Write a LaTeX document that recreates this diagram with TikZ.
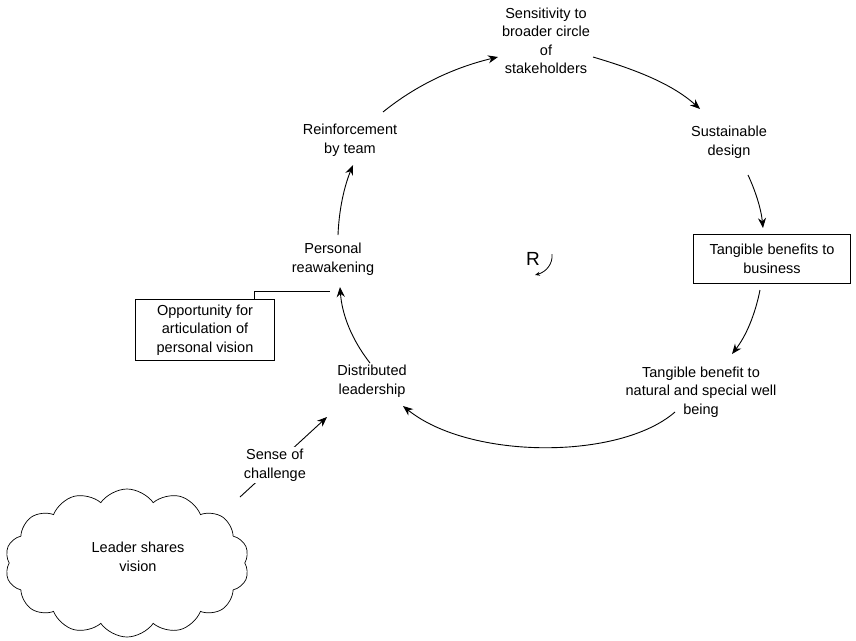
\documentclass[tikz,border=0pt]{standalone}
\usepackage{fontspec}
\setmainfont{Liberation Sans}
\usetikzlibrary{arrows.meta,shapes.symbols}
\begin{document}
\begin{tikzpicture}[x=1pt,y=-1pt,
  txt/.style={align=center,font=\fontsize{14.5}{18.5}\selectfont,inner sep=1pt},
  boxed/.style={txt,draw,line width=0.9pt,inner xsep=8pt,inner ysep=5pt},
  link/.style={line width=0.9pt,-{Stealth[length=10pt,width=8pt]}},
  plain/.style={line width=0.9pt}]
\useasboundingbox (0,0) rectangle (856,640);

% loop variables
\node[txt] (sens) at (546,41) {Sensitivity to\\broader circle\\of\\stakeholders};
\node[txt] (sust) at (729,142) {Sustainable\\design};
\node[boxed,minimum width=157pt,minimum height=49pt] (tbb) at (772,259) {Tangible benefits to\\business};
\node[txt] (tbn) at (701,392) {Tangible benefit to\\natural and special well\\being};
\node[txt] (dist) at (372,381) {Distributed\\leadership};
\node[txt] (pers) at (333,259) {Personal\\reawakening};
\node[txt] (reinf) at (350,140) {Reinforcement\\by team};

% external inputs
\node[boxed,minimum width=139pt,minimum height=55pt] (opp) at (205,330) {Opportunity for\\articulation of\\personal vision};
\node[cloud,draw,line width=0.7pt,cloud puffs=14,cloud puff arc=110,aspect=1.7,
      minimum width=244pt,minimum height=148pt] (cloud) at (127,563) {};
\node[txt] (cloudtext) at (138,557) {Leader shares\\vision};

% loop polarity
\node[font=\fontsize{19}{20}\selectfont,inner sep=0pt] (R) at (533,259) {R};
\coordinate (rstart) at (552,254);
\coordinate (rend) at (535,275);
\draw[line width=0.8pt,-{Stealth[length=5pt,width=4pt]}] (rstart) .. controls (553,264) and (546,272) .. (rend);

% loop links
\draw[link] (383,112) .. controls (420,82) and (460,66) .. (498,57);
\draw[link] (593,57) .. controls (630,68) and (670,82) .. (700,109);
\draw[link] (748,175) .. controls (755,190) and (761,208) .. (763,228);
\draw[link] (760,290) .. controls (755,315) and (746,336) .. (732,354);
\draw[link] (675,412) .. controls (620,460) and (470,460) .. (403,406);
\draw[link] (370,363) .. controls (352,340) and (342,315) .. (340,287);
\draw[link] (338,235) .. controls (339,210) and (344,187) .. (353,165);

% inputs
\coordinate (oppend) at (330,291);
\draw[plain] (opp.north -| 254,0) |- (oppend);
\coordinate (cl) at (240,497);
\draw[link] (cl) -- node[txt,fill=white,inner sep=2pt,pos=0.4] (soc) {Sense of\\challenge} (327,417);
\end{tikzpicture}
\end{document}
